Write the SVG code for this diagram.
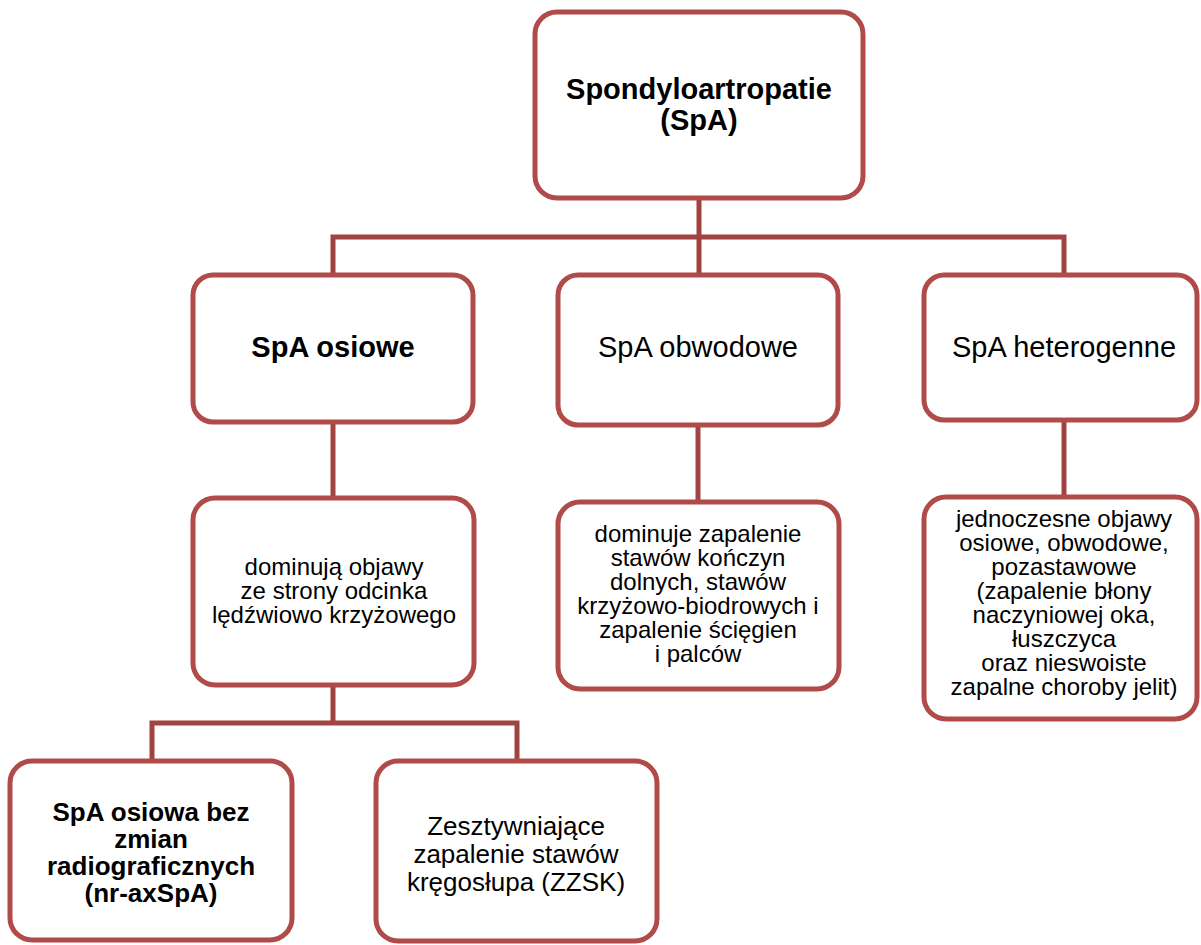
<svg xmlns="http://www.w3.org/2000/svg" width="1201" height="945" viewBox="0 0 1201 945">
<style>
.box{fill:#fff;stroke:#b04b49;stroke-width:5}
.conn{fill:none;stroke:#a14341;stroke-width:5}
text{font-family:"Liberation Sans",Arial,sans-serif;fill:#000;text-anchor:middle}
.b{font-weight:bold}
.t29{font-size:29px}
.t24{font-size:24px}
.t26{font-size:26px}
</style>
<rect width="1201" height="945" fill="#fff"/>
<g id="connectors">
<path class="conn" d="M699 198V275M333 275V237H1064V275"/>
<path class="conn" d="M333 422V498"/>
<path class="conn" d="M698 425V502"/>
<path class="conn" d="M1064 420V497"/>
<path class="conn" d="M333 685V723M152 761V723H517V761"/>
</g>
<g id="n-spa">
<rect class="box" x="535" y="12" width="328" height="186" rx="22"/>
<text class="b t29"><tspan x="699" y="99">Spondyloartropatie</tspan><tspan x="699" y="130">(SpA)</tspan></text>
</g>
<g id="n-osiowe">
<rect class="box" x="193" y="275" width="280" height="147" rx="20"/>
<text class="b t29" x="333" y="357">SpA osiowe</text>
</g>
<g id="n-obwodowe">
<rect class="box" x="558" y="275" width="280" height="150" rx="20"/>
<text class="t29" x="698" y="357">SpA obwodowe</text>
</g>
<g id="n-heterogenne">
<rect class="box" x="924" y="275" width="273" height="145" rx="20"/>
<text class="t29" x="1064" y="357">SpA heterogenne</text>
</g>
<g id="n-osiowe-desc">
<rect class="box" x="193" y="498" width="281" height="187" rx="22"/>
<text class="t24"><tspan x="334" y="575">dominują objawy</tspan><tspan x="334" y="599">ze strony odcinka</tspan><tspan x="334" y="623">lędźwiowo krzyżowego</tspan></text>
</g>
<g id="n-obwodowe-desc">
<rect class="box" x="558" y="502" width="281" height="187" rx="22"/>
<text class="t24"><tspan x="698" y="542">dominuje zapalenie</tspan><tspan x="698" y="566">stawów kończyn</tspan><tspan x="698" y="590">dolnych, stawów</tspan><tspan x="698" y="614">krzyżowo-biodrowych i</tspan><tspan x="698" y="638">zapalenie ścięgien</tspan><tspan x="698" y="662">i palców</tspan></text>
</g>
<g id="n-heterogenne-desc">
<rect class="box" x="924" y="497" width="273" height="222" rx="22"/>
<text class="t24"><tspan x="1064" y="527">jednoczesne objawy</tspan><tspan x="1064" y="551">osiowe, obwodowe,</tspan><tspan x="1064" y="575">pozastawowe</tspan><tspan x="1064" y="599">(zapalenie błony</tspan><tspan x="1064" y="623">naczyniowej oka,</tspan><tspan x="1064" y="647">łuszczyca</tspan><tspan x="1064" y="671">oraz nieswoiste</tspan><tspan x="1064" y="695">zapalne choroby jelit)</tspan></text>
</g>
<g id="n-nraxspa">
<rect class="box" x="10" y="761" width="282" height="179" rx="22"/>
<text class="b t26"><tspan x="151" y="821">SpA osiowa bez</tspan><tspan x="151" y="848">zmian</tspan><tspan x="151" y="875">radiograficznych</tspan><tspan x="151" y="902">(nr-axSpA)</tspan></text>
</g>
<g id="n-zzsk">
<rect class="box" x="376" y="761" width="281" height="180" rx="22"/>
<text class="t26"><tspan x="516" y="835">Zesztywniające</tspan><tspan x="516" y="863">zapalenie stawów</tspan><tspan x="516" y="891">kręgosłupa (ZZSK)</tspan></text>
</g>
</svg>
